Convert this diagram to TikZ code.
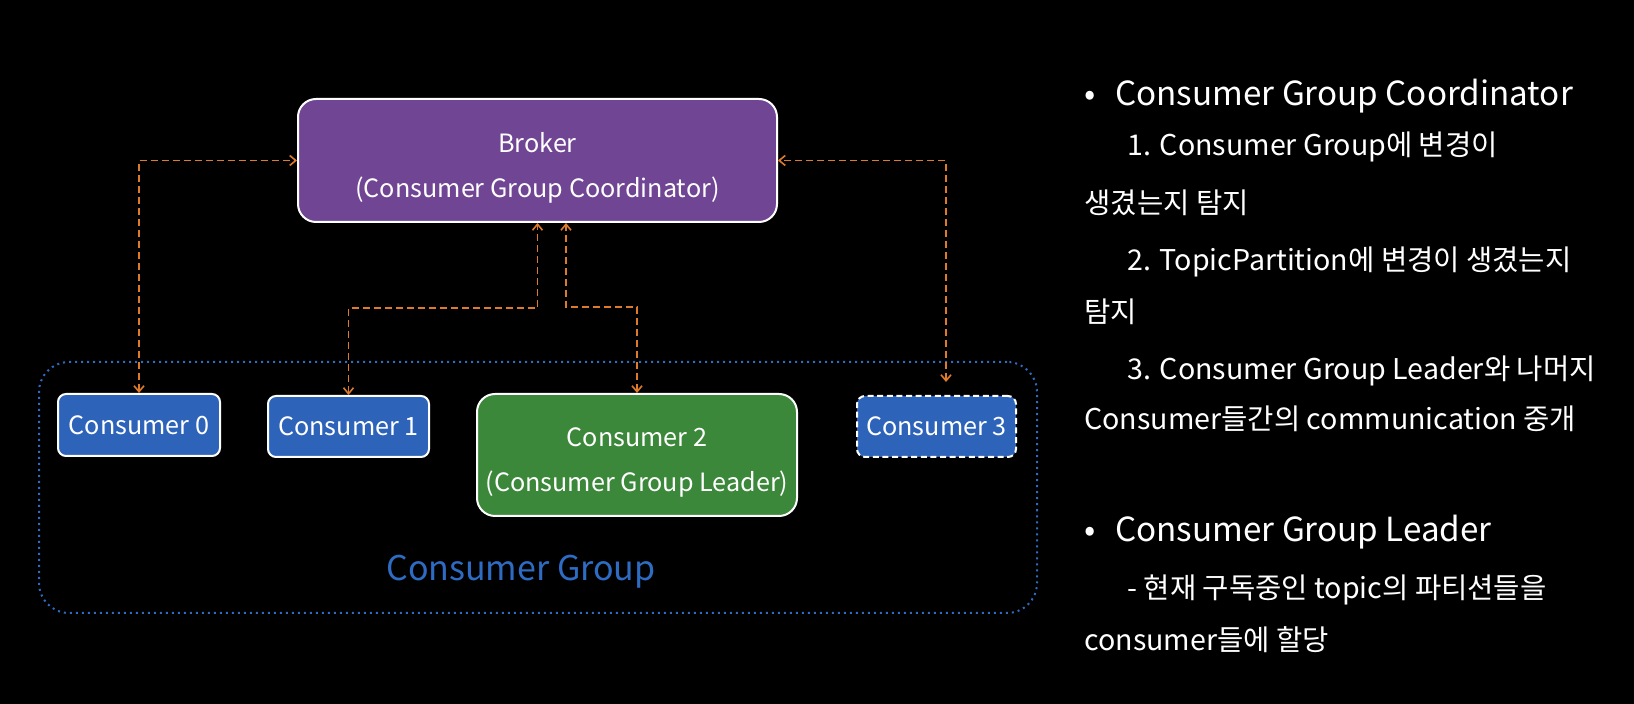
\documentclass[tikz,border=0pt]{standalone}
\usepackage{fontspec}
\setmainfont{Noto Sans CJK KR}
\usetikzlibrary{arrows.meta}
\definecolor{brokerpurple}{RGB}{112,69,148}
\definecolor{consblue}{RGB}{45,99,185}
\definecolor{leadgreen}{RGB}{60,136,58}
\definecolor{connorange}{RGB}{222,122,44}
\definecolor{groupblue}{RGB}{46,108,196}
\begin{document}
\begin{tikzpicture}[x=0.5pt,y=-0.5pt,
  box/.style={draw=white, line width=1pt, text=white, align=center, inner sep=0pt,
    font=\fontsize{12.6}{22.5}\selectfont},
  boxtext/.style={text=white, align=center, inner sep=0pt,
    font=\fontsize{12.6}{22.5}\selectfont},
  conn/.style={draw=connorange, line width=0.8pt, dash pattern=on 3.5pt off 2pt,
    {Straight Barb[length=3pt,width=5pt]}-{Straight Barb[length=3pt,width=5pt]}},
  head/.style={text=white, anchor=base west, inner sep=0pt, font=\fontsize{16.6}{22}\selectfont},
  sub/.style={text=white, anchor=base west, inner sep=0pt, font=\fontsize{14.3}{18}\selectfont},
]
\fill[black] (0,0) rectangle (1634,704);
\useasboundingbox (0,0) rectangle (1634,704);

% consumer group frame
\node (group) [draw=groupblue, dotted, line width=1pt, rounded corners=15pt,
  minimum width=499pt, minimum height=125.5pt, inner sep=0pt] at (538,487.5) {};
\node (glabel) [text=groupblue, inner sep=0pt, font=\fontsize{17}{22}\selectfont] at (521,572) {Consumer Group};

% broker
\node (broker) [box, fill=brokerpurple, rounded corners=9pt,
  minimum width=239.5pt, minimum height=61.5pt] at (537.5,160.5) {};
\node (brokertext) [boxtext] at (537.5,168) {Broker\\(Consumer Group Coordinator)};

% consumers
\node (c0) [box, fill=consblue, rounded corners=4pt, minimum width=81pt, minimum height=31pt]
  at (139,425) {Consumer 0};
\node (c1) [box, fill=consblue, rounded corners=4pt, minimum width=80.5pt, minimum height=30.5pt]
  at (348.5,426.5) {Consumer 1};
\node (c2) [box, fill=leadgreen, rounded corners=9pt, minimum width=160pt, minimum height=61pt]
  at (637,455) {};
\node (c2text) [boxtext] at (637,462) {Consumer 2\\(Consumer Group Leader)};
\node (c3) [box, fill=consblue, dash pattern=on 3pt off 1.8pt, rounded corners=4pt,
  minimum width=79.5pt, minimum height=30.5pt] at (936.5,426.5) {Consumer 3};

% connectors
\coordinate (b2) at ([xshift=14.25pt]broker.south);
\coordinate (t3) at ([xshift=4.75pt,yshift=6.5pt]c3.north);
\draw[conn] (c0.north) |- (broker.west);
\draw[conn] (c1.north) -- (c1.north |- 0,308) -| (broker.south);
\draw[conn] (c2.north) -- (c2.north |- 0,307) -| (b2);
\draw[conn] (t3) |- (broker.east);

% right text
\node (bul1) [head] at (1084,106) {•};
\node (h1) [head] at (1115,106) {Consumer Group Coordinator};
\node (l1) [sub] at (1127,156) {1. Consumer Group에 변경이};
\node (l2) [sub] at (1084,214) {생겼는지 탐지};
\node (l3) [sub] at (1127,271) {2. TopicPartition에 변경이 생겼는지};
\node (l4) [sub] at (1084,323) {탐지};
\node (l5) [sub] at (1127,380) {3. Consumer Group Leader와 나머지};
\node (l6) [sub] at (1084,430) {Consumer들간의 communication 중개};
\node (bul2) [head] at (1084,542) {•};
\node (h2) [head] at (1115,542) {Consumer Group Leader};
\node (l7) [sub] at (1127,599) {- 현재 구독중인 topic의 파티션들을};
\node (l8) [sub] at (1084,651) {consumer들에 할당};
\end{tikzpicture}
\end{document}
